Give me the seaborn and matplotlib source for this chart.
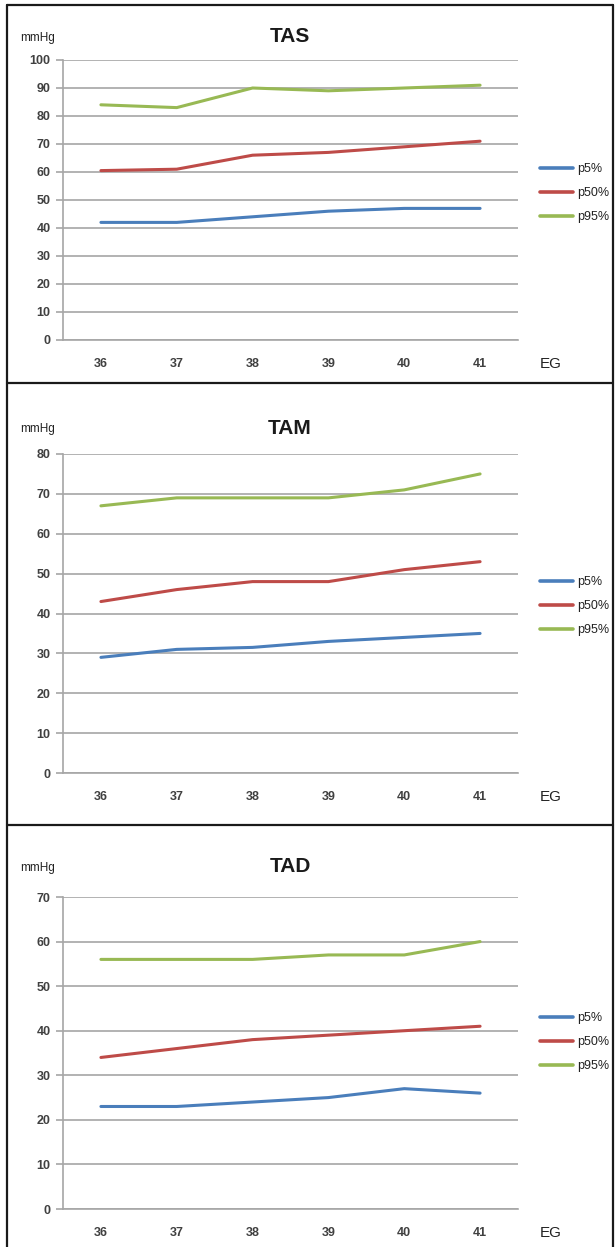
import pandas as pd
import matplotlib
matplotlib.use("Agg")
import matplotlib.pyplot as plt
from matplotlib.lines import Line2D
from matplotlib.ticker import FixedLocator, MultipleLocator
import seaborn as sns

# ------------------------------------------------------------------
# Datos
# ------------------------------------------------------------------
eg = [36, 37, 38, 39, 40, 41]
series = ["p5%", "p50%", "p95%"]

tas_p5 = [42, 42, 44, 46, 47, 47]
tas_p50 = [60.5, 61, 66, 67, 69, 71]
tas_p95 = [84, 83, 90, 89, 90, 91]

tam_p5 = [29, 31, 31.5, 33, 34, 35]
tam_p50 = [43, 46, 48, 48, 51, 53]
tam_p95 = [67, 69, 69, 69, 71, 75]

tad_p5 = [23, 23, 24, 25, 27, 26]
tad_p50 = [34, 36, 38, 39, 40, 41]
tad_p95 = [56, 56, 56, 57, 57, 60]

paneles = [
    ("TAS", [tas_p5, tas_p50, tas_p95], 100),
    ("TAM", [tam_p5, tam_p50, tam_p95], 80),
    ("TAD", [tad_p5, tad_p50, tad_p95], 70),
]

colores = {"p5%": "#4a7ebb", "p50%": "#be4b48", "p95%": "#98b954"}

# ------------------------------------------------------------------
# Layout (pixel positions on a 615x1247 canvas)
# ------------------------------------------------------------------
W, H = 615, 1247
sns.set_theme(style="white")
plt.rcParams["font.family"] = ["Liberation Sans", "DejaVu Sans"]
narrow = ["Liberation Sans Narrow", "Liberation Sans", "DejaVu Sans"]

fig = plt.figure(figsize=(W / 100, H / 100), dpi=100)

# axes: (top, bottom) in px, title y, legend center y
ax_px = [(60, 340, 37, 193), (454, 773, 428, 606), (897, 1209, 867, 1042)]
ax_left, ax_right = 63, 518

for (titulo, valores, ymax), (top, bot, ty, ly) in zip(paneles, ax_px):
    ax = fig.add_axes([ax_left / W, 1 - bot / H, (ax_right - ax_left) / W, (bot - top) / H])

    df = pd.DataFrame({
        "pos": list(range(len(eg))) * len(series),
        "valor": [v for s in valores for v in s],
        "serie": [s for s in series for _ in eg],
    })
    sns.lineplot(data=df, x="pos", y="valor", hue="serie", palette=colores,
                 linewidth=2.2, ax=ax, legend=False, zorder=3)

    ax.set_xlim(-0.5, len(eg) - 0.5)
    ax.set_ylim(0, ymax)
    ax.yaxis.set_major_locator(MultipleLocator(10))
    ax.grid(axis="y", color="#a6a6a6", linewidth=1.2)
    ax.grid(axis="x", visible=False)
    for s in ["top", "right"]:
        ax.spines[s].set_visible(False)
    for s in ["left", "bottom"]:
        ax.spines[s].set_color("#a6a6a6")
        ax.spines[s].set_linewidth(1.2)

    ax.set_xticks(range(len(eg)))
    ax.set_xticklabels([str(v) for v in eg])
    ax.xaxis.set_minor_locator(FixedLocator([i - 0.5 for i in range(len(eg) + 1)]))
    ax.tick_params(axis="x", which="major", length=0, pad=13)
    ax.tick_params(axis="x", which="minor", length=5, width=1.2, color="#a6a6a6", direction="out")
    ax.tick_params(axis="y", which="major", length=5, width=1.2, color="#a6a6a6",
                   direction="out", left=True, pad=4)
    for lab in ax.get_xticklabels() + ax.get_yticklabels():
        lab.set_fontsize(9)
        lab.set_fontweight("bold")
        lab.set_color("#404040")
    ax.set_xlabel("")
    ax.set_ylabel("")

    # titles and unit labels
    fig.text(290 / W, 1 - ty / H, titulo, ha="center", va="center",
             fontsize=15, fontweight="bold", color="#1a1a1a")
    fig.text(20 / W, 1 - (ty + 1) / H, "mmHg", ha="left", va="center",
             fontsize=8.5, family=narrow, color="#222222")
    fig.text(540 / W, 1 - (bot + 24) / H, "EG", ha="left", va="center",
             fontsize=11, family=narrow, color="#222222")

    handles = [Line2D([], [], color=colores[s], linewidth=2.6) for s in series]
    leg = ax.legend(handles, series, loc="center left",
                    bbox_to_anchor=(540 / W, 1 - ly / H), bbox_transform=fig.transFigure,
                    frameon=False, handlelength=2.6, handletextpad=0.35,
                    labelspacing=0.95, borderaxespad=0, borderpad=0,
                    prop={"family": narrow, "size": 9})
    for t in leg.get_texts():
        t.set_color("#222222")

# panel frames
frame_kw = dict(color="#1a1a1a", linewidth=1.6, transform=fig.transFigure)
for y in [5, 383, 825]:
    fig.add_artist(Line2D([7 / W, 613 / W], [1 - y / H, 1 - y / H], **frame_kw))
fig.add_artist(Line2D([7 / W, 7 / W], [1 - 5 / H, 0], **frame_kw))
fig.add_artist(Line2D([613 / W, 613 / W], [1 - 5 / H, 0], **frame_kw))

fig.savefig("out.png", dpi=100)
